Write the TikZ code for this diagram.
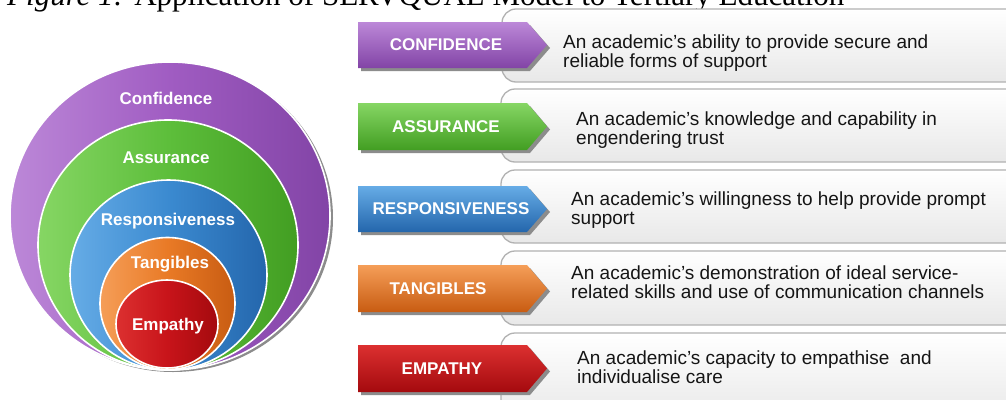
\documentclass[tikz,border=0pt]{standalone}
\usepackage{fontspec}
\setmainfont{Liberation Sans}
\newfontfamily\capfont{Liberation Serif}
\definecolor{purpleC}{HTML}{A05CC2}
\definecolor{purpleL}{HTML}{BC88D8}
\definecolor{purpleD}{HTML}{8244A6}
\definecolor{greenC}{HTML}{5DBE3B}
\definecolor{greenL}{HTML}{86D664}
\definecolor{greenD}{HTML}{429E22}
\definecolor{blueC}{HTML}{3B8AD0}
\definecolor{blueL}{HTML}{66ACE6}
\definecolor{blueD}{HTML}{2466AC}
\definecolor{orangeC}{HTML}{E97A26}
\definecolor{orangeL}{HTML}{F59E58}
\definecolor{orangeD}{HTML}{C85C12}
\definecolor{redC}{HTML}{C8141A}
\definecolor{redL}{HTML}{DC3030}
\definecolor{redD}{HTML}{A40A0E}
\definecolor{descC}{HTML}{151515}
\tikzset{
  ring/.style={draw=white, line width=1.6pt},
  ringlabel/.style={text=white, font=\fontsize{17}{17}\selectfont\bfseries, inner sep=0pt},
  greybox/.style={draw=black!30, line width=1.3pt, rounded corners=14pt, top color=white, bottom color=black!9},
  tagshadow/.style={fill=black!45},
  taglabel/.style={text=white, font=\fontsize{17}{17}\selectfont\bfseries, inner sep=0pt},
  desc/.style={text=descC, font=\fontsize{19}{19}\selectfont, align=left, anchor=west, inner sep=0pt}
}
\newcommand{\tagshape}[4]{%
  \fill[tagshadow] (361,#1+3) -- (530,#1+3) -- (550,#1/2+#2/2+3) -- (530,#2+3) -- (361,#2+3) -- cycle;
  \path[top color=#3, bottom color=#4, middle color=#3!50!#4] (358,#1) -- (527,#1) -- (547,#1/2+#2/2) -- (527,#2) -- (358,#2) -- cycle;
}
\begin{document}
\begin{tikzpicture}[x=1pt,y=-1pt]
\useasboundingbox (0,0) rectangle (1006,399);
\clip (0,0) rectangle (1006,399);
\fill[white] (0,0) rectangle (1006,399);
% caption (cut off at the top, as in the reference)
\node[anchor=base west, inner sep=0pt, font=\fontsize{31}{31}\capfont] (caption) at (7,5.5) {\textit{Figure 1:} Application of SERVQUAL Model to Tertiary Education};
% nested circles
\fill[black!45] (173,218) ellipse [x radius=160, y radius=154];
\path[ring, left color=purpleL, right color=purpleD, middle color=purpleC] (170,216) ellipse [x radius=160, y radius=154];
\path[ring, left color=greenL, right color=greenD, middle color=greenC] (168,245) ellipse [x radius=130, y radius=125];
\path[ring, left color=blueL, right color=blueD, middle color=blueC] (168.5,275) ellipse [x radius=98.5, y radius=95];
\path[ring, left color=orangeL, right color=orangeD, middle color=orangeC] (167.5,303.5) ellipse [x radius=67.5, y radius=66];
\path[ring, left color=redL, right color=redD, middle color=redC] (167,324) ellipse [x radius=51, y radius=44];
\node[ringlabel] (cConf) at (166,98) {Confidence};
\node[ringlabel] (cAssu) at (166,158) {Assurance};
\node[ringlabel] (cResp) at (168,221) {Responsiveness};
\node[ringlabel] (cTang) at (170,264) {Tangibles};
\node[ringlabel] (cEmpa) at (168,326) {Empathy};
% grey description boxes
\path[greybox] (502,9) rectangle (1020,82);
\path[greybox] (501,89) rectangle (1020,162);
\path[greybox] (501,170) rectangle (1020,243);
\path[greybox] (501,251) rectangle (1020,325);
\path[greybox] (501,333) rectangle (1020,420);
% coloured tags
\tagshape{22}{68}{purpleL}{purpleD}
\tagshape{103}{150}{greenL}{greenD}
\tagshape{186}{232}{blueL}{blueD}
\tagshape{265}{312}{orangeL}{orangeD}
\tagshape{345}{392}{redL}{redD}
\node[taglabel] (tConf) at (446,45) {CONFIDENCE};
\node[taglabel] (tAssu) at (446,127) {ASSURANCE};
\node[taglabel] (tResp) at (451,209) {RESPONSIVENESS};
\node[taglabel] (tTang) at (438,289) {TANGIBLES};
\node[taglabel] (tEmpa) at (442,369) {EMPATHY};
% descriptions
\node[desc] (dConf) at (563,53.5) {An academic’s ability to provide secure and\\reliable forms of support};
\node[desc] (dAssu) at (576,130.5) {An academic’s knowledge and capability in\\engendering trust};
\node[desc] (dResp) at (571,210) {An academic’s willingness to help provide prompt\\support};
\node[desc] (dTang) at (571,282.5) {An academic’s demonstration of ideal service-\\related skills and use of communication channels};
\node[desc] (dEmpa) at (577,367) {An academic’s capacity to empathise\ \ and\\individualise care};
\end{tikzpicture}
\end{document}
